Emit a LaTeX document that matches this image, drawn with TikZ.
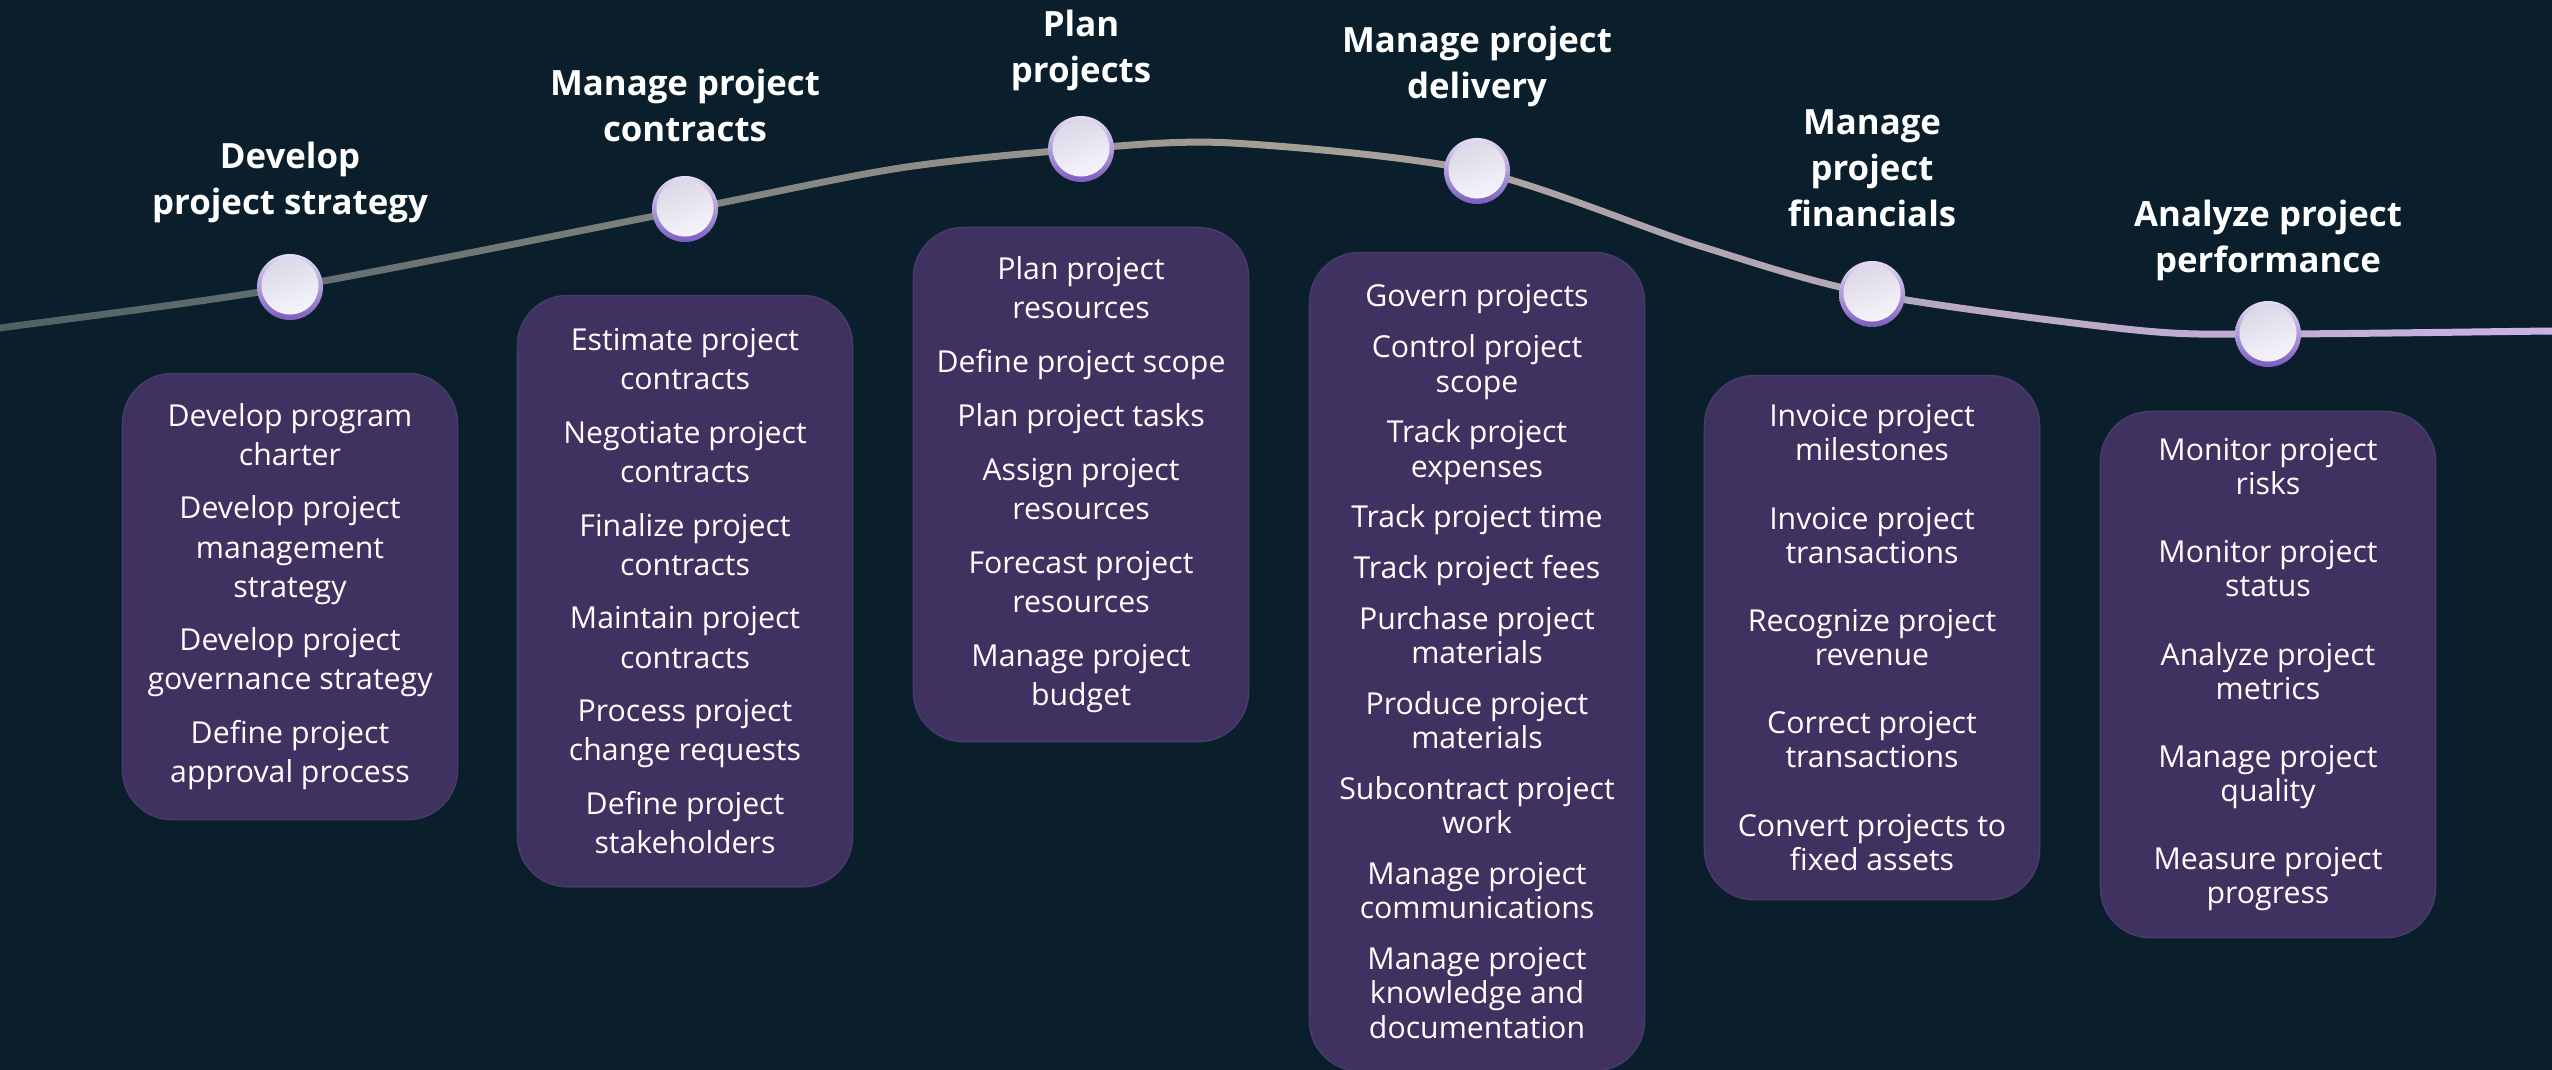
\documentclass[tikz,border=0pt]{standalone}
\usepackage{fontspec}
\setmainfont{Open Sans}
\usepackage{tikz}
\usetikzlibrary{positioning}

\definecolor{bgcol}{RGB}{10,30,43}
\definecolor{boxcol}{RGB}{63,50,96}
\definecolor{boxedge}{RGB}{72,60,106}
\definecolor{curveL}{RGB}{80,96,100}
\definecolor{curveM}{RGB}{165,158,148}
\definecolor{curveR}{RGB}{200,178,230}
\definecolor{ringtop}{RGB}{228,220,244}
\definecolor{ringbot}{RGB}{123,92,192}
\definecolor{dotA}{RGB}{218,214,230}
\definecolor{dotB}{RGB}{248,247,252}

\newcommand{\boxfont}[1]{\fontsize{8.6}{#1}\selectfont}

\begin{document}
\begin{tikzpicture}[x=0.01cm,y=-0.01cm,
  milestone/.style={circle,minimum size=0.66cm,inner sep=0pt,
    top color=ringtop,bottom color=ringbot,
    path picture={\shade[top color=dotA,bottom color=dotB,shading angle=20]
      ([yshift=0.01cm]path picture bounding box.center) circle (0.285cm);}},
  stagetitle/.style={text=white,align=center,inner sep=0pt,
    font=\bfseries\fontsize{9.9}{13}\selectfont},
  stepbox/.style={fill=boxcol,draw=boxedge,line width=0.4pt,rounded corners=0.5cm,
    text=white,align=center,minimum width=3.35cm,inner sep=0pt}]
% background
\fill[bgcol] (0,0) rectangle (2552,1070);
\useasboundingbox (0,0) rectangle (2552,1070);
% road
\scope
\clip plot[smooth] coordinates {(-30,328.5) (0,324.5) (290,283.5) (685,206.5)
        (900,164.5) (1081,145.5) (1232,139.5) (1477,167.5) (1700,242.5)
        (1872,290.5) (2135,326.5) (2268,330.5) (2552,327.5) (2582,327.5)}
      -- plot[smooth] coordinates {(2582,334.5) (2552,334.5) (2268,337.5)
        (2135,333.5) (1872,297.5) (1700,249.5) (1477,174.5) (1232,146.5)
        (1081,152.5) (900,171.5) (685,213.5) (290,290.5) (0,331.5) (-30,335.5)}
      -- cycle;
\shade[left color=curveL,right color=curveR,middle color=curveM] (0,0) rectangle (2552,1070);
\endscope
% milestones
\node[milestone] (m1) at (290,287) {};
\node[milestone] (m2) at (685,209) {};
\node[milestone] (m3) at (1081,149) {};
\node[milestone] (m4) at (1477,171) {};
\node[milestone] (m5) at (1872,294) {};
\node[milestone] (m6) at (2268,334) {};
% stage titles
\node[stagetitle,above=0.30cm of m1] (t1) {Develop\\project strategy};
\node[stagetitle,above=0.33cm of m2] (t2) {Manage project\\contracts};
\node[stagetitle,above=0.24cm of m3] (t3) {Plan\\projects};
\node[stagetitle,above=0.30cm of m4] (t4) {Manage project\\delivery};
\node[stagetitle,above=0.33cm of m5] (t5) {Manage\\project\\financials};
\node[stagetitle,above=0.19cm of m6] (t6) {Analyze project\\performance};
% process boxes
\node[stepbox,minimum height=4.46cm,below=0.52cm of m1,font=\boxfont{11.1}] (b1)
  {Develop program\\charter\\[4.2pt]
   Develop project\\management\\strategy\\[4.2pt]
   Develop project\\governance strategy\\[4.2pt]
   Define project\\approval process};
\node[stepbox,minimum height=5.91cm,below=0.52cm of m2,font=\boxfont{11.1}] (b2)
  {Estimate project\\contracts\\[4.2pt]
   Negotiate project\\contracts\\[4.2pt]
   Finalize project\\contracts\\[4.2pt]
   Maintain project\\contracts\\[4.2pt]
   Process project\\change requests\\[4.2pt]
   Define project\\stakeholders};
\node[stepbox,minimum height=5.14cm,below=0.44cm of m3,font=\boxfont{11.1}] (b3)
  {Plan project\\resources\\[4.2pt]
   Define project scope\\[4.2pt]
   Plan project tasks\\[4.2pt]
   Assign project\\resources\\[4.2pt]
   Forecast project\\resources\\[4.2pt]
   Manage project\\budget};
\node[stepbox,minimum height=8.18cm,below=0.47cm of m4,font=\boxfont{9.8}] (b4)
  {Govern projects\\[4.6pt]
   Control project\\scope\\[4.6pt]
   Track project\\expenses\\[4.6pt]
   Track project time\\[4.6pt]
   Track project fees\\[4.6pt]
   Purchase project\\materials\\[4.6pt]
   Produce project\\materials\\[4.6pt]
   Subcontract project\\work\\[4.6pt]
   Manage project\\communications\\[4.6pt]
   Manage project\\knowledge and\\documentation};
\node[stepbox,minimum height=5.24cm,below=0.47cm of m5,font=\boxfont{9.7}] (b5)
  {Invoice project\\milestones\\[9.7pt]
   Invoice project\\transactions\\[9.7pt]
   Recognize project\\revenue\\[9.7pt]
   Correct project\\transactions\\[9.7pt]
   Convert projects to\\fixed assets};
\node[stepbox,minimum height=5.26cm,below=0.43cm of m6,font=\boxfont{9.7}] (b6)
  {Monitor project\\risks\\[9.7pt]
   Monitor project\\status\\[9.7pt]
   Analyze project\\metrics\\[9.7pt]
   Manage project\\quality\\[9.7pt]
   Measure project\\progress};
\end{tikzpicture}
\end{document}
